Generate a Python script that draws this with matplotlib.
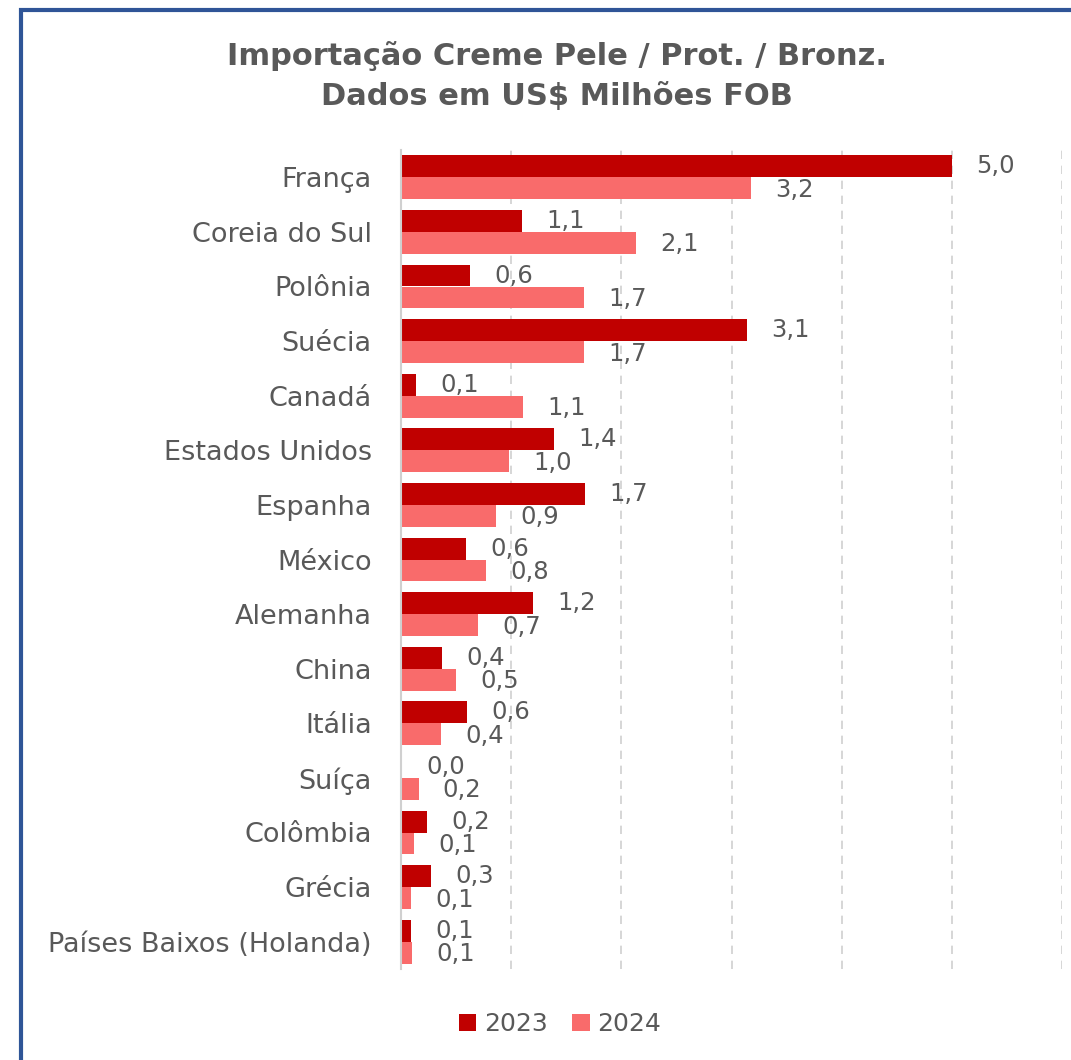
import matplotlib.pyplot as plt
import numpy as np
from matplotlib.patches import Rectangle

paises = ["França", "Coreia do Sul", "Polônia", "Suécia", "Canadá", "Estados Unidos",
          "Espanha", "México", "Alemanha", "China", "Itália", "Suíça", "Colômbia",
          "Grécia", "Países Baixos (Holanda)"]
v2023 = [5.0, 1.1, 0.63, 3.14, 0.14, 1.39, 1.67, 0.59, 1.2, 0.37, 0.6, 0.01, 0.24, 0.27, 0.09]
v2024 = [3.18, 2.13, 1.66, 1.66, 1.11, 0.98, 0.86, 0.77, 0.7, 0.5, 0.36, 0.16, 0.12, 0.09, 0.1]

cor_2023 = "#C00000"
cor_2024 = "#F96B6B"
cinza = "#595959"

fig = plt.figure(figsize=(10.71, 10.60), dpi=100)
fig.patches.append(Rectangle((21 / 1071, -0.2), 1.2, 1.2 - 10 / 1060, transform=fig.transFigure,
                             fill=False, edgecolor="#2F5597", linewidth=3))

ax = fig.add_axes([401 / 1071, 1 - 969 / 1060, (1062 - 401) / 1071, (969 - 150) / 1060])

y = np.arange(len(paises))
h = 0.4
b1 = ax.barh(y - h / 2, v2023, height=h, color=cor_2023, label="2023")
b2 = ax.barh(y + h / 2, v2024, height=h, color=cor_2024, label="2024")

for i in range(len(paises)):
    ax.text(v2023[i] + 0.22, y[i] - h / 2, "{:.1f}".format(v2023[i]).replace(".", ","),
            va="center", ha="left", fontsize=17.5, color=cinza)
    ax.text(v2024[i] + 0.22, y[i] + h / 2 + 0.03, "{:.1f}".format(v2024[i]).replace(".", ","),
            va="center", ha="left", fontsize=17.5, color=cinza)

ax.set_xlim(0, 6)
ax.set_ylim(len(paises) - 0.5, -0.5)
ax.set_yticks(y)
ax.set_yticklabels(paises, fontsize=19.5, color=cinza)
ax.tick_params(axis="y", length=0, pad=21)
ax.set_xticks([1, 2, 3, 4, 5, 6])
ax.set_xticklabels([])
ax.tick_params(axis="x", length=0)
ax.grid(axis="x", color="#D0D0D0", linestyle=(0, (5, 4)), linewidth=1.2)
ax.set_axisbelow(True)
for s in ["top", "right", "bottom"]:
    ax.spines[s].set_visible(False)
ax.spines["left"].set_color("#D0D0D0")
ax.spines["left"].set_linewidth(1.5)
ax.patch.set_alpha(0)

fig.text(557 / 1071, 1 - 76 / 1060, "Importação Creme Pele / Prot. / Bronz.\nDados em US$ Milhões FOB",
         ha="center", va="center", fontsize=22, fontweight="bold", color=cinza, linespacing=1.45)

fig.legend(handles=[b1, b2], loc="center", bbox_to_anchor=(560 / 1071, 1 - 1024 / 1060),
           ncol=2, frameon=False, fontsize=18, labelcolor=cinza, handlelength=0.7,
           handleheight=0.7, handletextpad=0.3, columnspacing=1.0)

fig.savefig("out.png", dpi=100, facecolor="white")
